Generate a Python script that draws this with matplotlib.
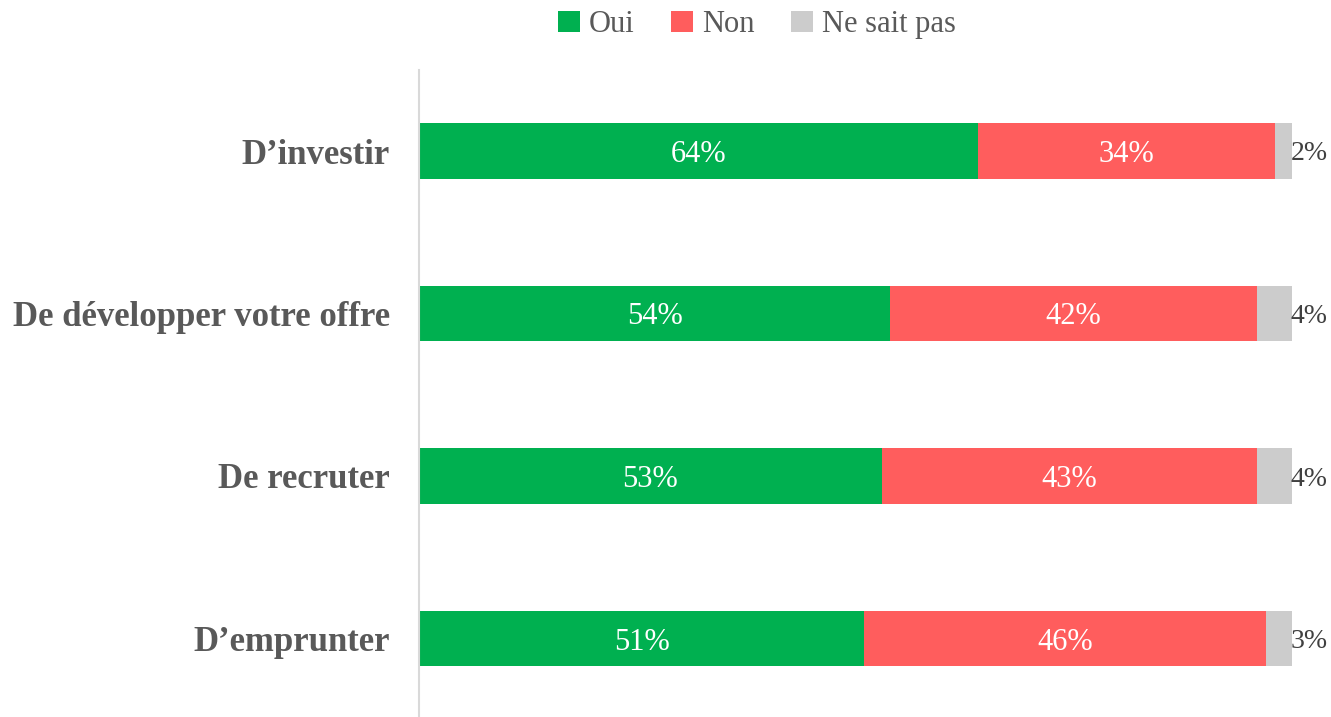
import matplotlib
matplotlib.use("Agg")
import matplotlib.pyplot as plt
import numpy as np

categories = ["D’investir", "De développer votre offre", "De recruter", "D’emprunter"]
oui = [64, 54, 53, 51]
non = [34, 42, 43, 46]
nsp = [2, 4, 4, 3]
series_names = ["Oui", "Non", "Ne sait pas"]
colors = ["#00B050", "#FF5D5D", "#CCCCCC"]

plt.rcParams['font.family'] = ['Liberation Serif', 'DejaVu Serif']

fig = plt.figure(figsize=(13.31, 7.17), dpi=100)
top_px, bot_px = 69.75, 719.75
ax = fig.add_axes([419/1331, (717-bot_px)/717, (1292-419)/1331, (bot_px-top_px)/717])

y = np.arange(len(categories))
left = np.zeros(len(categories))
for vals, name, col in zip([oui, non, nsp], series_names, colors):
    vals = np.array(vals, dtype=float)
    ax.barh(y, vals, left=left, height=0.34, color=col, label=name)
    for yi, l, v in zip(y, left, vals):
        if name == "Ne sait pas":
            ax.text(l + v + 1.95, yi, f"{int(v)}%", ha="center", va="center_baseline",
                    fontsize=20, color="#404040")
        else:
            ax.text(l + v / 2, yi, f"{int(v)}%", ha="center", va="center_baseline",
                    fontsize=22, color="white")
    left += vals

ax.set_xlim(0, 100)
ax.set_ylim(3.5, -0.5)
ax.set_yticks(y)
ax.set_yticklabels(categories, fontsize=25, fontweight="bold", color="#595959")
ax.tick_params(axis="y", length=0, pad=21)
ax.set_xticks([])
for s in ["top", "right", "bottom"]:
    ax.spines[s].set_visible(False)
ax.spines["left"].set_color("#D9D9D9")
ax.spines["left"].set_linewidth(1.5)

leg = fig.legend(loc="upper center", bbox_to_anchor=(757/1331, 1.024), ncol=3, frameon=False,
                 fontsize=22, handlelength=0.7, handleheight=0.7, handletextpad=0.3,
                 columnspacing=1.2, labelcolor="#595959")

fig.savefig("out.png", dpi=100)
